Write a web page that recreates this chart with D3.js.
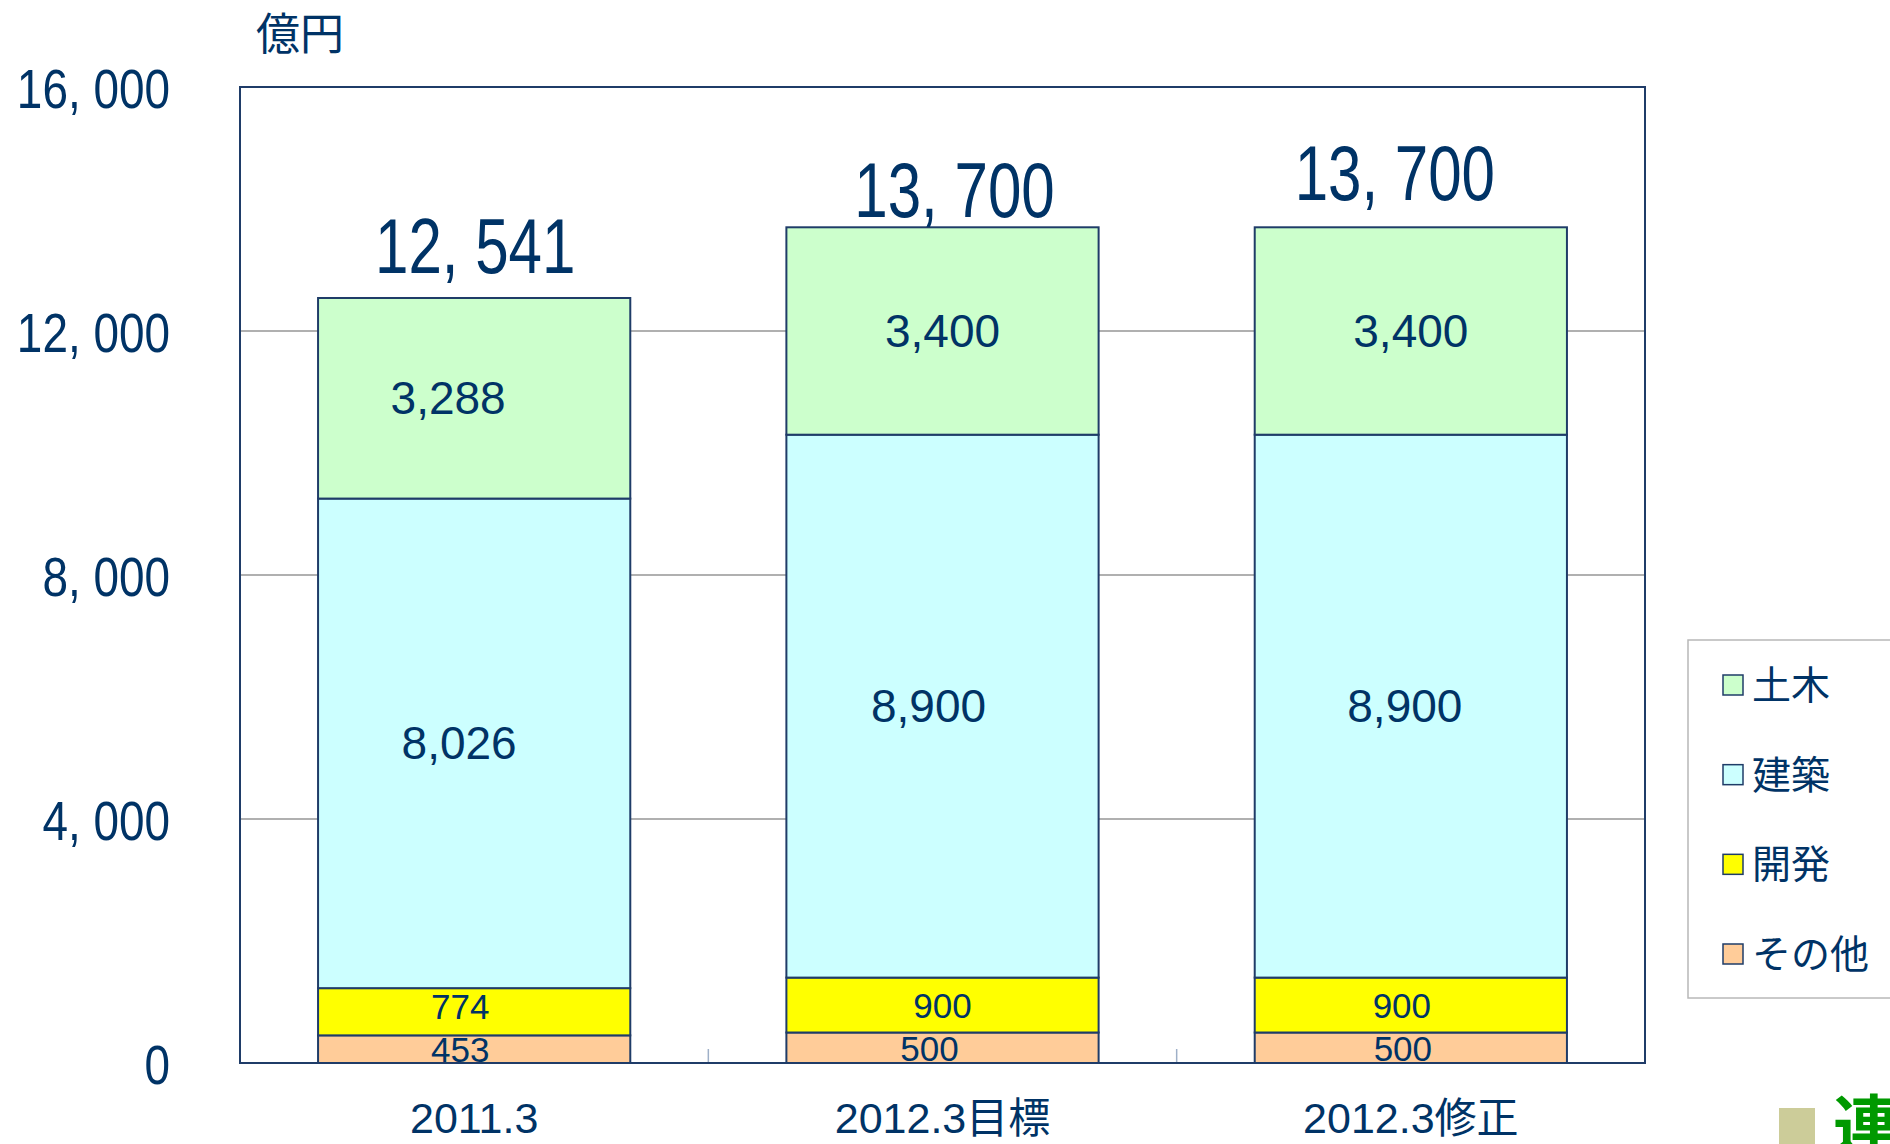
<!DOCTYPE html>
<html>
<head>
<meta charset="utf-8">
<script src="https://cdn.jsdelivr.net/npm/d3@7"></script>
<style>
  body { margin: 0; background: #fff; }
  svg { display: block; }
</style>
</head>
<body>
<svg id="chart"></svg>
<script>
// データ（億円）
const categories = ["2011.3", "2012.3目標", "2012.3修正"];
const seriesNames = ["その他", "開発", "建築", "土木"]; // 下から積み上げ順
const sonota = [453, 500, 500];
const kaihatsu = [774, 900, 900];
const kenchiku = [8026, 8900, 8900];
const doboku = [3288, 3400, 3400];
const totals = [12541, 13700, 13700];
const yTicks = [0, 4000, 8000, 12000, 16000];
const yUnit = "億円";

const colors = {
  "その他": "#FFCC99",
  "開発": "#FFFF00",
  "建築": "#CCFFFF",
  "土木": "#CCFFCC"
};

const W = 1890, H = 1144;
const navy = "#003366";
const line = "#1f3c68";
const lblFont = "'Liberation Sans', Arial, sans-serif";
const jpFont = "'Noto Sans CJK JP', 'Noto Sans', sans-serif";

const plot = { left: 240, right: 1645, top: 87, bottom: 1063 };

// ラベル位置の微調整（元の図で手置きされている分）
const totalNudge = [[1, -25], [12, -10], [-16, -27]];
const innerNudge = [
  [-14, -14, -15, -26],
  [-13, 0, -14, 0],
  [-8, -9, -6, 0]
];

const svg = d3.select("#chart").attr("width", W).attr("height", H);

const table = categories.map((c, i) => ({
  cat: c,
  "その他": sonota[i],
  "開発": kaihatsu[i],
  "建築": kenchiku[i],
  "土木": doboku[i]
}));
const stacked = d3.stack().keys(seriesNames)(table);

const x = d3.scaleBand()
  .domain(categories)
  .range([plot.left, plot.right])
  .paddingInner(1 / 3)
  .paddingOuter(1 / 6);

const y = d3.scaleLinear()
  .domain([0, 16000])
  .range([plot.bottom, plot.top]);

const fmtWide = d => d3.format(",")(d).replace(",", ", ");

// グリッド線
svg.append("g")
  .selectAll("line")
  .data(yTicks.filter(d => d > 0 && d < 16000))
  .enter()
  .append("line")
  .attr("x1", plot.left)
  .attr("x2", plot.right)
  .attr("y1", d => y(d))
  .attr("y2", d => y(d))
  .attr("stroke", "#b0b0b0")
  .attr("stroke-width", 2);

// カテゴリ境界の小目盛
const step = x.step();
svg.append("g")
  .selectAll("line")
  .data([1, 2])
  .enter()
  .append("line")
  .attr("x1", d => plot.left + step * d)
  .attr("x2", d => plot.left + step * d)
  .attr("y1", plot.bottom)
  .attr("y2", plot.bottom - 14)
  .attr("stroke", "#9fb0c8")
  .attr("stroke-width", 1.5);

// 積み上げ棒
const layer = svg.append("g")
  .selectAll("g")
  .data(stacked)
  .enter()
  .append("g")
  .attr("fill", d => colors[d.key]);

layer.selectAll("rect")
  .data(d => d)
  .enter()
  .append("rect")
  .attr("x", d => x(d.data.cat))
  .attr("y", d => y(d[1]))
  .attr("width", x.bandwidth())
  .attr("height", d => y(d[0]) - y(d[1]))
  .attr("stroke", line)
  .attr("stroke-width", 2);

// 枠
svg.append("rect")
  .attr("x", plot.left)
  .attr("y", plot.top)
  .attr("width", plot.right - plot.left)
  .attr("height", plot.bottom - plot.top)
  .attr("fill", "none")
  .attr("stroke", line)
  .attr("stroke-width", 2);

// 棒内ラベル
stacked.forEach((s, si) => {
  const big = s.key === "建築" || s.key === "土木";
  svg.append("g")
    .selectAll("text")
    .data(s)
    .enter()
    .append("text")
    .attr("x", (d, i) => x(d.data.cat) + x.bandwidth() / 2 + innerNudge[i][si])
    .attr("y", (d, i) => (y(d[0]) + y(d[1])) / 2 + (big ? 16 : (si === 1 && i === 0 ? 7 : 13)))
    .attr("text-anchor", "middle")
    .attr("font-family", lblFont)
    .attr("font-size", big ? 46 : 35)
    .attr("fill", navy)
    .text(d => d3.format(",")(d[1] - d[0]));
});

// 合計ラベル（縦長の数字書体を横方向の縮小で再現）
const tScale = 0.77;
svg.append("g")
  .selectAll("text")
  .data(totals)
  .enter()
  .append("text")
  .attr("transform", (d, i) =>
    `translate(${x(categories[i]) + x.bandwidth() / 2 + totalNudge[i][0]},${y(d) + totalNudge[i][1]}) scale(${tScale},1)`)
  .attr("text-anchor", "middle")
  .attr("font-family", lblFont)
  .attr("font-size", 78)
  .attr("fill", navy)
  .text(fmtWide);

// Y軸
const yScaleX = 0.82;
const yAxis = svg.append("g")
  .attr("transform", `translate(${plot.left},0)`)
  .call(d3.axisLeft(y).tickValues(yTicks).tickSize(0).tickPadding(70).tickFormat(fmtWide));
yAxis.select(".domain").remove();
yAxis.selectAll("text")
  .attr("font-family", lblFont)
  .attr("font-size", 56)
  .attr("fill", navy)
  .attr("x", -70 / yScaleX)
  .attr("transform", `scale(${yScaleX},1)`)
  .attr("dy", "0.36em");

// X軸
const xAxis = svg.append("g")
  .attr("transform", `translate(0,${plot.bottom})`)
  .call(d3.axisBottom(x).tickSize(0).tickPadding(0));
xAxis.select(".domain").remove();
xAxis.selectAll("text")
  .attr("font-family", jpFont)
  .attr("font-size", 42)
  .attr("fill", navy)
  .attr("dy", null)
  .attr("y", 70);
xAxis.selectAll("text").each(function () {
  const t = d3.select(this);
  const s = t.text();
  const m = s.match(/^([0-9.]+)(.*)$/);
  t.text(null);
  t.append("tspan").attr("font-family", lblFont).attr("font-size", 43).text(m[1]);
  if (m[2]) t.append("tspan").text(m[2]);
});

// 単位
svg.append("text")
  .attr("x", 300)
  .attr("y", 50)
  .attr("text-anchor", "middle")
  .attr("font-family", jpFont)
  .attr("font-size", 44)
  .attr("fill", navy)
  .text(yUnit);

// 凡例
const legend = svg.append("g");
legend.append("rect")
  .attr("x", 1688)
  .attr("y", 640)
  .attr("width", 260)
  .attr("height", 358)
  .attr("fill", "#fff")
  .attr("stroke", "#b8b8b8")
  .attr("stroke-width", 1.5);

const legendOrder = ["土木", "建築", "開発", "その他"];
const ly = d3.scalePoint().domain(legendOrder).range([685, 954]);
const items = legend.selectAll("g.item")
  .data(legendOrder)
  .enter()
  .append("g")
  .attr("class", "item")
  .attr("transform", d => `translate(1723,${ly(d)})`);
items.append("rect")
  .attr("x", 0)
  .attr("y", -10)
  .attr("width", 20)
  .attr("height", 20)
  .attr("fill", d => colors[d])
  .attr("stroke", line)
  .attr("stroke-width", 1.5);
items.append("text")
  .attr("x", 29)
  .attr("y", 14)
  .attr("font-family", jpFont)
  .attr("font-size", 39)
  .attr("fill", navy)
  .text(d => d);

// 右下の見切れた見出し
svg.append("rect")
  .attr("x", 1779)
  .attr("y", 1108)
  .attr("width", 36)
  .attr("height", 40)
  .attr("fill", "#CCCC99");
svg.append("text")
  .attr("x", 1833)
  .attr("y", 1150)
  .attr("font-family", jpFont)
  .attr("font-size", 66)
  .attr("font-weight", "bold")
  .attr("fill", "#009900")
  .text("連");
</script>
</body>
</html>
